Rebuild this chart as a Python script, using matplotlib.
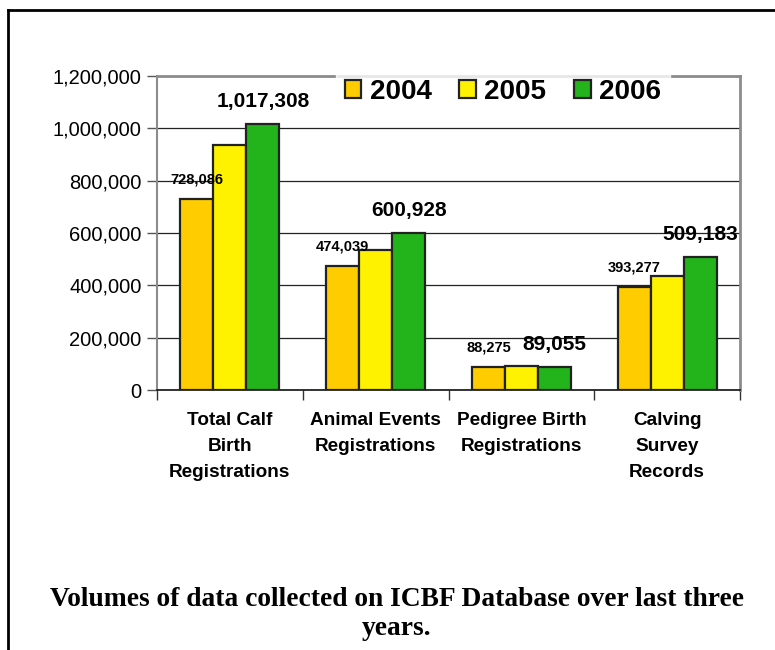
import matplotlib
matplotlib.use("Agg")
import matplotlib.pyplot as plt
import numpy as np
from matplotlib.patches import Patch
from matplotlib.lines import Line2D

categories = ["Total Calf\nBirth\nRegistrations", "Animal Events\nRegistrations",
              "Pedigree Birth\nRegistrations", "Calving\nSurvey\nRecords"]
years = ["2004", "2005", "2006"]
v2004 = [728086, 474039, 88275, 393277]
v2005 = [936000, 535000, 92000, 436000]
v2006 = [1017308, 600928, 89055, 509183]
yticks = [0, 200000, 400000, 600000, 800000, 1000000, 1200000]
title = "Volumes of data collected on ICBF Database over last three\nyears."

colors = ["#FFCC00", "#FFF200", "#22B41A"]
series = [v2004, v2005, v2006]

fig = plt.figure(figsize=(7.75, 6.5), dpi=100)
ax = fig.add_axes([157/775, 1-390/650, (740-157)/775, (390-76)/650])

x = np.arange(len(categories))
w = 0.226
for i, (vals, c) in enumerate(zip(series, colors)):
    ax.bar(x + (i-1)*w, vals, width=w, color=c, edgecolor="#222222", linewidth=1.6, zorder=3)

# data labels
for xi, v in zip(x, v2004):
    ax.text(xi - w, v + 48000, f"{v:,}", ha="center", va="bottom", fontsize=10.5,
            fontweight="bold", family="Liberation Sans", zorder=4)
for xi, v in zip(x, v2006):
    ax.text(xi + w, v + 48000, f"{v:,}", ha="center", va="bottom", fontsize=15,
            fontweight="bold", family="Liberation Sans", zorder=4)

ax.set_xlim(-0.5, len(categories)-0.5)
ax.set_ylim(0, 1200000)
ax.set_yticks(yticks)
ax.set_yticklabels([f"{t:,}" for t in yticks], family="Liberation Sans", fontsize=14.5)
ax.yaxis.grid(True, color="#222222", linewidth=0.9, zorder=0)
ax.set_axisbelow(True)

ax.set_xticks(x)
ax.set_xticklabels(categories, family="Liberation Sans", fontsize=13.7, fontweight="bold",
                   linespacing=1.68, va="top")
ax.tick_params(axis="x", which="major", length=0, pad=16)
ax.set_xticks(np.arange(-0.5, len(categories), 1.0), minor=True)
ax.tick_params(axis="x", which="minor", length=7, width=1, color="#333333")
ax.tick_params(axis="y", length=7, width=1, color="#555555", pad=4)

for s in ["top", "right", "left"]:
    ax.spines[s].set_color("#8c8c8c")
ax.spines["top"].set_linewidth(2)
ax.spines["right"].set_linewidth(2)
ax.spines["left"].set_linewidth(1.5)
ax.spines["bottom"].set_color("#111111")
ax.spines["bottom"].set_linewidth(1.2)

handles = [Patch(facecolor=c, edgecolor="#222222", linewidth=1.6) for c in colors]
leg = ax.legend(handles, years, ncol=3, loc="center", bbox_to_anchor=(503/775, 1-92/650),
                bbox_transform=fig.transFigure, frameon=True, fancybox=False,
                prop={"family": "Liberation Sans", "weight": "bold", "size": 20},
                handlelength=0.6, handleheight=0.6, handletextpad=0.3, columnspacing=1.0,
                borderpad=0.3, borderaxespad=0)
leg.get_frame().set_edgecolor("white")
leg.get_frame().set_facecolor("white")
leg.set_zorder(10)

fig.text(397/775, 1-614/650, title, ha="center", va="center", family="Liberation Serif",
         fontweight="bold", fontsize=19.8, linespacing=1.25)

# figure border (left and top)
fig.add_artist(Line2D([8/775, 8/775], [0, 1-10/650], transform=fig.transFigure,
                      color="black", linewidth=2))
fig.add_artist(Line2D([8/775, 1], [1-10/650, 1-10/650], transform=fig.transFigure,
                      color="black", linewidth=2))

fig.savefig("out.png", dpi=100)
